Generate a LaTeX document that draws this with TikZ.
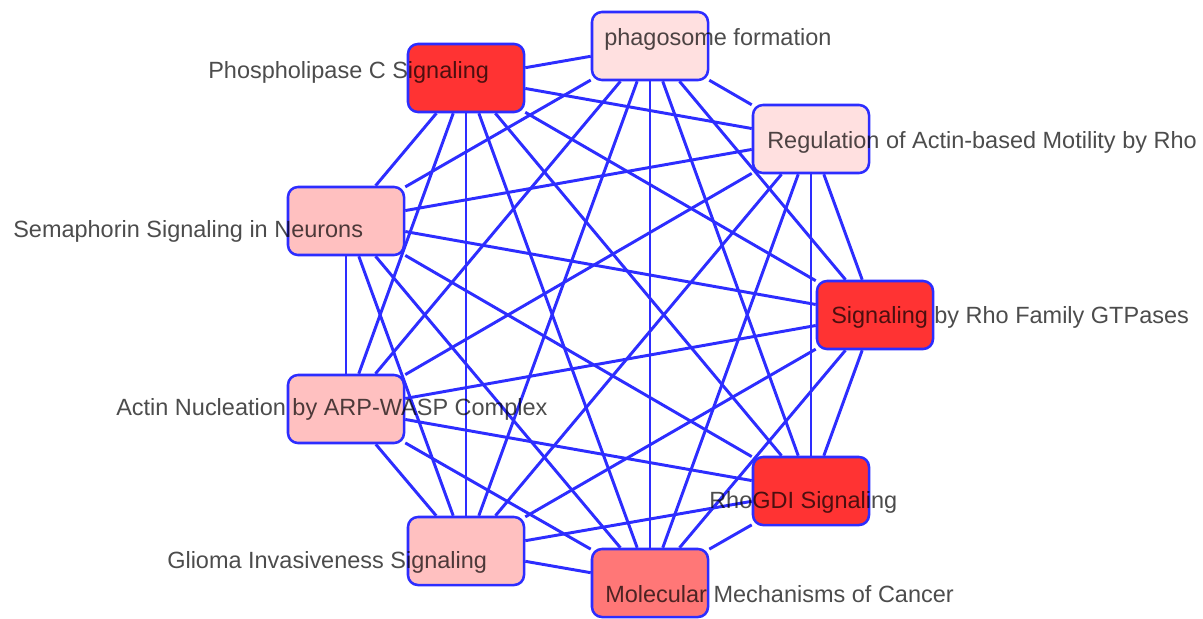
\documentclass[tikz,border=0pt]{standalone}
\usepackage{fontspec}
\setmainfont{Liberation Sans}
\usetikzlibrary{shapes}

\definecolor{edgeblue}{RGB}{45,45,255}
\definecolor{hired}{RGB}{255,51,51}
\definecolor{midred}{RGB}{255,119,119}
\definecolor{lowred}{RGB}{255,192,192}
\definecolor{palered}{RGB}{255,224,224}

\tikzset{
  pathbox/.style={shape=rectangle,rounded corners=0.25cm,draw=edgeblue,line width=1.8pt,
    minimum width=2.9cm,minimum height=1.7cm,inner sep=0pt},
  pathlabel/.style={anchor=base west,inner sep=0pt,text=black,text opacity=0.7,
    font=\fontsize{16.7}{20}\selectfont},
  link/.style={-,draw=edgeblue,line width=2.1pt}
}

\begin{document}
\begin{tikzpicture}[x=0.025cm,y=-0.025cm]
\path[use as bounding box,fill=white] (0,0) rectangle (1203,618);
\node[pathbox,fill=hired] (0) at (466,78) {};
\node[pathbox,fill=palered] (1) at (650,46) {};
\node[pathbox,fill=palered] (2) at (811,139) {};
\node[pathbox,fill=hired] (3) at (875,315) {};
\node[pathbox,fill=hired] (4) at (811,491) {};
\node[pathbox,fill=midred] (5) at (650,583) {};
\node[pathbox,fill=lowred] (6) at (466,551) {};
\node[pathbox,fill=lowred] (7) at (346,409) {};
\node[pathbox,fill=lowred] (8) at (346,221) {};

\path [link] (0) edge node {} (1);
\path [link] (0) edge node {} (2);
\path [link] (0) edge node {} (3);
\path [link] (0) edge node {} (4);
\path [link] (0) edge node {} (5);
\path [link] (0) edge node {} (6);
\path [link] (0) edge node {} (7);
\path [link] (0) edge node {} (8);
\path [link] (1) edge node {} (2);
\path [link] (1) edge node {} (3);
\path [link] (1) edge node {} (4);
\path [link] (1) edge node {} (5);
\path [link] (1) edge node {} (6);
\path [link] (1) edge node {} (7);
\path [link] (1) edge node {} (8);
\path [link] (2) edge node {} (3);
\path [link] (2) edge node {} (4);
\path [link] (2) edge node {} (5);
\path [link] (2) edge node {} (6);
\path [link] (2) edge node {} (7);
\path [link] (2) edge node {} (8);
\path [link] (3) edge node {} (4);
\path [link] (3) edge node {} (5);
\path [link] (3) edge node {} (6);
\path [link] (3) edge node {} (7);
\path [link] (3) edge node {} (8);
\path [link] (4) edge node {} (5);
\path [link] (4) edge node {} (6);
\path [link] (4) edge node {} (7);
\path [link] (4) edge node {} (8);
\path [link] (5) edge node {} (6);
\path [link] (5) edge node {} (7);
\path [link] (5) edge node {} (8);
\path [link] (6) edge node {} (7);
\path [link] (6) edge node {} (8);
\path [link] (7) edge node {} (8);

\node[pathlabel] (l0) at (208,78) {Phospholipase C Signaling};
\node[pathlabel] (l1) at (604,45) {phagosome formation};
\node[pathlabel] (l2) at (767,148) {Regulation of Actin-based Motility by Rho};
\node[pathlabel] (l3) at (831,323) {Signaling by Rho Family GTPases};
\node[pathlabel] (l4) at (709,508) {RhoGDI Signaling};
\node[pathlabel] (l5) at (605,602) {Molecular Mechanisms of Cancer};
\node[pathlabel] (l6) at (167,568) {Glioma Invasiveness Signaling};
\node[pathlabel] (l7) at (116,415) {Actin Nucleation by ARP-WASP Complex};
\node[pathlabel] (l8) at (13,237) {Semaphorin Signaling in Neurons};
\end{tikzpicture}
\end{document}
